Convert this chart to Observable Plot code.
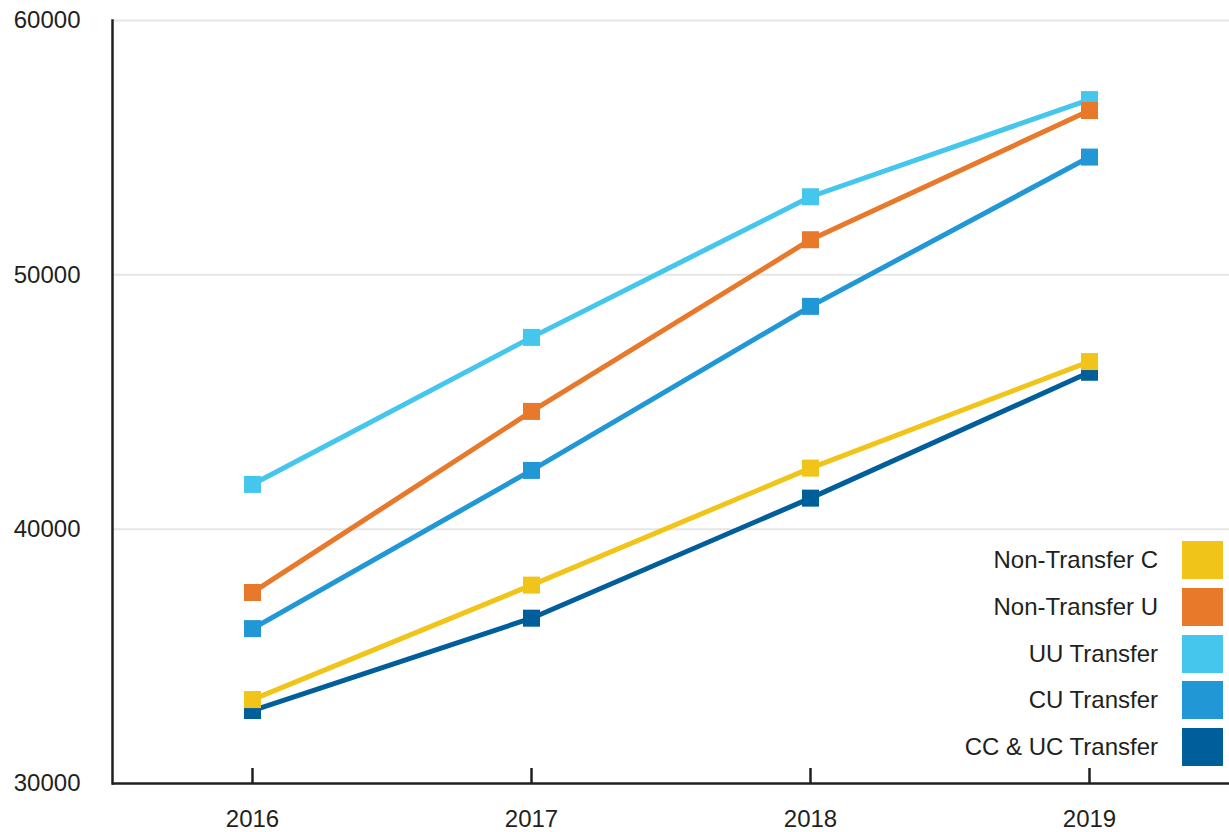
<!DOCTYPE html>
<html>
<head>
<meta charset="utf-8">
<script src="https://cdn.jsdelivr.net/npm/d3@7"></script>
<script src="https://cdn.jsdelivr.net/npm/@observablehq/plot@0.6"></script>
<style>
  html, body { margin: 0; padding: 0; background: #fff; }
  #wrap { position: relative; width: 1229px; height: 832px; font-family: "Liberation Sans", Arial, sans-serif; color: #231f20; }
  #legend { position: absolute; right: 6px; top: 541px; }
  .row { display: flex; align-items: center; justify-content: flex-end; height: 38px; margin-bottom: 8.8px; }
  .row span { font-size: 24px; margin-right: 24px; }
  .row i { display: block; width: 41px; height: 38px; }
</style>
</head>
<body>
<div id="wrap"></div>
<script>
const years = ["2016", "2017", "2018", "2019"];
const series = ["Non-Transfer C", "Non-Transfer U", "UU Transfer", "CU Transfer", "CC & UC Transfer"];
const colors = ["#F0C419", "#E8782A", "#45C6EC", "#2198D5", "#005F9A"];
const nonTransferC = [33300, 37800, 42400, 46590];
const nonTransferU = [37510, 44630, 51380, 56460];
const uuTransfer = [41760, 47540, 53070, 56890];
const cuTransfer = [36090, 42310, 48760, 54630];
const ccUcTransfer = [32870, 36500, 41220, 46170];
const yTicks = [30000, 40000, 50000, 60000];

const valuesBySeries = [nonTransferC, nonTransferU, uuTransfer, cuTransfer, ccUcTransfer];
// draw order: reverse of legend order
const data = [];
for (let s = series.length - 1; s >= 0; s--) {
  years.forEach((yr, i) => data.push({ series: series[s], year: yr, value: valuesBySeries[s][i] }));
}

const axisColor = "#231f20";
const chart = Plot.plot({
  width: 1229,
  height: 832,
  marginLeft: 112,
  marginRight: 0,
  marginTop: 20,
  marginBottom: 49,
  style: { fontFamily: "Liberation Sans, Arial, sans-serif", fontSize: "24px", color: axisColor, background: "#fff" },
  x: { type: "point", domain: years, padding: 0.5, label: null },
  y: { domain: [30000, 60000], label: null },
  color: { domain: series, range: colors },
  marks: [
    Plot.ruleY(yTicks.slice(1), { stroke: "#e6e6e6", strokeWidth: 2 }),
    Plot.axisY(yTicks, { tickSize: 0, tickPadding: 32, fontSize: 24, label: null, fill: axisColor, tickFormat: d => String(d) }),
    Plot.axisX(years, { tickSize: 0, tickPadding: 26, fontSize: 24, label: null, fill: axisColor }),
    Plot.line(data, { x: "year", y: "value", z: "series", stroke: "series", strokeWidth: 5 }),
    Plot.dot(data, { x: "year", y: "value", fill: "series", symbol: "square", r: 9.6, stroke: null }),
    Plot.ruleX(years, { x: d => d, y1: 30000, y2: 30590, stroke: axisColor, strokeWidth: 2.5 }),
    Plot.ruleY([30000], { stroke: axisColor, strokeWidth: 2.5 }),
    Plot.frame({ anchor: "left", stroke: axisColor, strokeWidth: 2.5 })
  ]
});
const wrap = document.getElementById("wrap");
wrap.appendChild(chart);

const legend = document.createElement("div");
legend.id = "legend";
series.forEach((s, i) => {
  const row = document.createElement("div");
  row.className = "row";
  const label = document.createElement("span");
  label.textContent = s;
  const sw = document.createElement("i");
  sw.style.background = colors[i];
  row.appendChild(label);
  row.appendChild(sw);
  legend.appendChild(row);
});
wrap.appendChild(legend);
</script>
</body>
</html>
